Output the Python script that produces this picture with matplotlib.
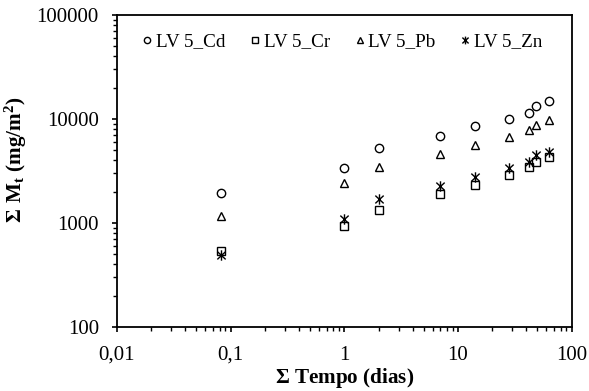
import matplotlib
matplotlib.use("Agg")
import matplotlib.pyplot as plt
from matplotlib.path import Path
from matplotlib.ticker import LogLocator, FuncFormatter, NullFormatter

plt.rcParams['font.family'] = ['Liberation Serif', 'DejaVu Serif']
plt.rcParams['mathtext.fontset'] = 'custom'
plt.rcParams['mathtext.rm'] = 'Liberation Serif'
plt.rcParams['mathtext.bf'] = 'Liberation Serif:bold'

# Cumulative leaching time (days)
tempo = [0.083, 1, 2, 7, 14, 28, 42, 49, 63]

# Cumulative released mass (mg/m2)
cd = [1930, 3360, 5300, 6870, 8570, 9930, 11500, 13300, 14900]
cr = [538, 935, 1333, 1890, 2316, 2896, 3470, 3890, 4350]
pb = [1170, 2440, 3470, 4600, 5620, 6770, 7830, 8750, 9770]
zn = [492, 1090, 1690, 2270, 2760, 3360, 3890, 4510, 4850]

# star marker: an X crossed by a vertical bar
star = Path(
    [(0, -1), (0, 1), (-0.8, -0.75), (0.8, 0.75), (-0.8, 0.75), (0.8, -0.75)],
    [Path.MOVETO, Path.LINETO, Path.MOVETO, Path.LINETO, Path.MOVETO, Path.LINETO],
)

series = [
    ("LV 5_Cd", cd, "o", 6.0),
    ("LV 5_Cr", cr, "s", 6.0),
    ("LV 5_Pb", pb, "^", 6.0),
    ("LV 5_Zn", zn, star, 7.5),
]

fig = plt.figure(figsize=(5.89, 3.91), dpi=100)
ax = fig.add_axes([0.1986, 0.1637, 0.772, 0.7979])

for name, vals, mk, ms in series:
    ax.plot(tempo, vals, linestyle="none", marker=mk, markersize=ms,
            markerfacecolor="none", markeredgecolor="black",
            markeredgewidth=1.0, color="black", label=name)

ax.set_xscale("log")
ax.set_yscale("log")
ax.set_xlim(0.01, 100)
ax.set_ylim(100, 100000)

def comma_fmt(v, pos):
    s = f"{v:g}"
    if "e" in s:
        s = f"{v:.0f}"
    return s.replace(".", ",")

ax.xaxis.set_major_locator(LogLocator(base=10, numticks=10))
ax.yaxis.set_major_locator(LogLocator(base=10, numticks=10))
ax.xaxis.set_minor_locator(LogLocator(base=10, subs=range(2, 10), numticks=20))
ax.yaxis.set_minor_locator(LogLocator(base=10, subs=range(2, 10), numticks=20))
ax.xaxis.set_major_formatter(FuncFormatter(comma_fmt))
ax.yaxis.set_major_formatter(FuncFormatter(lambda v, p: f"{v:.0f}"))
ax.xaxis.set_minor_formatter(NullFormatter())
ax.yaxis.set_minor_formatter(NullFormatter())

ax.tick_params(which="major", direction="out", length=3.5, width=1.2,
               labelsize=15)
ax.tick_params(axis="x", which="major", pad=10)
ax.tick_params(axis="y", which="major", pad=9.5)
ax.tick_params(which="minor", direction="out", length=3, width=1.0)
for sp in ax.spines.values():
    sp.set_linewidth(1.3)

ax.set_xlabel(r"$\mathbf{\Sigma}$ Tempo (dias)", fontsize=15.2,
              fontweight="bold", labelpad=1)
ax.set_ylabel(r"$\mathbf{\Sigma\ M_t}$ (mg/m$\mathbf{^2}$)", fontsize=15.2,
              fontweight="bold")
ax.yaxis.set_label_coords(-0.194, 0.535)

ax.legend(loc="upper center", bbox_to_anchor=(0.495, 0.985), ncol=4,
          frameon=False, fontsize=13.8, handletextpad=0.15,
          columnspacing=1.25, handlelength=0.6, markerscale=0.75,
          borderaxespad=0.3)

fig.savefig("out.png", dpi=100)
